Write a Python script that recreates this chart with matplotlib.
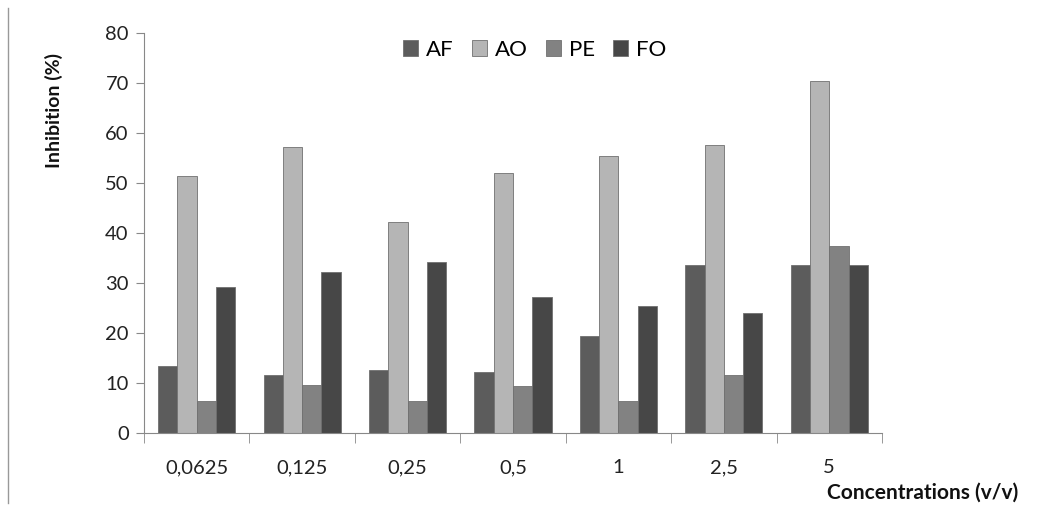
import numpy as np
import matplotlib
matplotlib.use("Agg")
import matplotlib.pyplot as plt

plt.rcParams["font.family"] = ["Lato", "DejaVu Sans"]

concentrations = ["0,0625", "0,125", "0,25", "0,5", "1", "2,5", "5"]
af = [13.5, 11.7, 12.7, 12.2, 19.5, 33.6, 33.6]
ao = [51.5, 57.2, 42.3, 52.1, 55.4, 57.7, 70.5]
pe = [6.5, 9.7, 6.5, 9.4, 6.5, 11.6, 37.4]
fo = [29.2, 32.3, 34.2, 27.3, 25.5, 24.0, 33.6]

series = [("AF", af, "#5c5c5c"), ("AO", ao, "#b5b5b5"),
          ("PE", pe, "#828282"), ("FO", fo, "#474747")]

fig = plt.figure(figsize=(10.4, 5.08), dpi=100)
ax = fig.add_axes([0.1385, 0.1476, 0.7095, 0.7874])

x = np.arange(len(concentrations))
w = 0.183
for i, (name, vals, col) in enumerate(series):
    ax.bar(x + (i - 1.5) * w, vals, w, color=col, edgecolor="#707070",
           linewidth=0.6, label=name)

ax.set_xlim(-0.5, len(concentrations) - 0.5)
ax.set_ylim(0, 80)
ax.set_yticks(range(0, 81, 10))
ax.set_xticks(x)
ax.set_xticklabels(concentrations)
ax.set_xticks(np.arange(-0.5, len(concentrations)), minor=True)
ax.tick_params(axis="x", which="major", length=0, labelsize=14.5, pad=19,
               labelcolor="#222222")
ax.tick_params(axis="x", which="minor", length=7, color="#888888")
ax.tick_params(axis="y", labelsize=14.5, length=6, color="#888888", pad=5,
               labelcolor="#222222")

for s in ["top", "right"]:
    ax.spines[s].set_visible(False)
for s in ["left", "bottom"]:
    ax.spines[s].set_color("#888888")

fig.text(0.052, 0.783, "Inhibition (%)", fontsize=14, fontweight="bold",
         rotation=90, ha="center", va="center", color="#111111")
fig.text(0.979, 0.01, "Concentrations (v/v)", fontsize=15, fontweight="bold",
         ha="right", va="bottom", color="#111111")

fig.legend(loc="center", bbox_to_anchor=(0.514, 0.902), ncol=4, frameon=False,
           fontsize=16, handlelength=0.7, handleheight=0.7, handletextpad=0.35,
           columnspacing=0.8, borderpad=0)

fig.add_artist(plt.Line2D([0.0077, 0.0077], [0.01, 0.985], color="#999999", lw=1))

fig.savefig("out.png", dpi=100, facecolor="white")
